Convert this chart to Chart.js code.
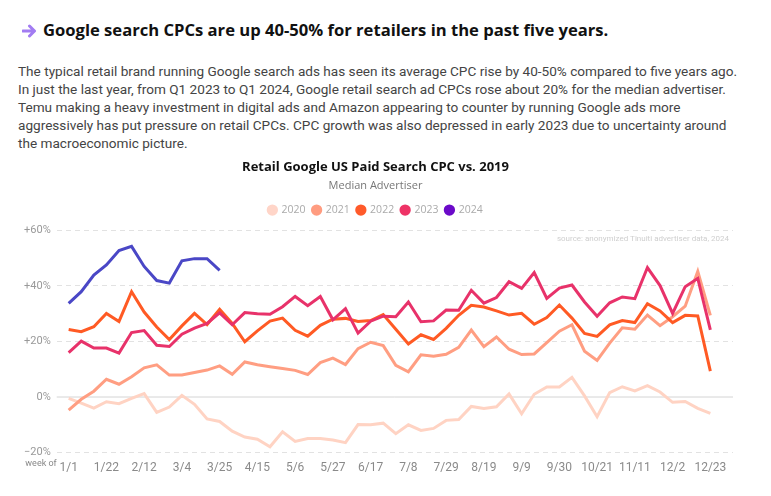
<!DOCTYPE html>
<html><head><meta charset="utf-8">
<script src="https://cdn.jsdelivr.net/npm/chart.js@4.4.1/dist/chart.umd.min.js"></script>
<style>
html,body{margin:0;padding:0;background:#fff;width:771px;height:496px;overflow:hidden;}
#h{position:absolute;left:22px;top:18px;font-family:'Open Sans',sans-serif;font-weight:700;font-size:16.6px;color:#111;white-space:nowrap;line-height:24px;}
#h svg{vertical-align:-2px;margin-right:6px;}
#p{position:absolute;left:18px;top:62px;font-family:Roboto,sans-serif;font-size:13.6px;line-height:18px;color:#444;white-space:nowrap;}
#wrap{position:absolute;left:0;top:150px;width:771px;height:346px;}
</style></head><body>
<div id="h"><svg width="15" height="14" viewBox="0 0 15 14"><path d="M1 7H12M7.5 2L12.5 7L7.5 12" stroke="#a27cf2" stroke-width="3" fill="none" stroke-linecap="round" stroke-linejoin="round"/></svg>Google search CPCs are up 40-50% for retailers in the past five years.</div>
<div id="p">The typical retail brand running Google search ads has seen its average CPC rise by 40-50% compared to five years ago.<br>In just the last year, from Q1 2023 to Q1 2024, Google retail search ad CPCs rose about 20% for the median advertiser.<br>Temu making a heavy investment in digital ads and Amazon appearing to counter by running Google ads more<br>aggressively has put pressure on retail CPCs. CPC growth was also depressed in early 2023 due to uncertainty around<br>the macroeconomic picture.</div>
<div id="wrap"><canvas id="c"></canvas></div>
<script>
const weeks = ['1/1','1/8','1/15','1/22','1/29','2/5','2/12','2/19','2/26','3/4','3/11','3/18','3/25','4/1','4/8','4/15','4/22','4/29','5/6','5/13','5/20','5/27','6/3','6/10','6/17','6/24','7/1','7/8','7/15','7/22','7/29','8/5','8/12','8/19','8/26','9/2','9/9','9/16','9/23','9/30','10/7','10/14','10/21','10/28','11/4','11/11','11/18','11/25','12/2','12/9','12/16','12/23'];
const tickWeeks = ['1/1','1/22','2/12','3/4','3/25','4/15','5/6','5/27','6/17','7/8','7/29','8/19','9/9','9/30','10/21','11/11','12/2','12/23'];
const yTicks = [-20, 0, 20, 40, 60];
const seriesNames = ['2020','2021','2022','2023','2024'];

const y2020 = [-0.5,-2.2,-4.0,-1.7,-2.4,-0.5,1.2,-5.5,-3.6,0.6,-2.6,-7.9,-8.8,-12.3,-14.4,-15.2,-17.9,-12.5,-16.0,-14.9,-14.9,-15.5,-16.4,-9.9,-10.0,-9.4,-13.2,-10.0,-12.0,-11.3,-8.4,-8.1,-3.4,-4.1,-3.5,1.1,-6.0,1.0,3.6,3.6,7.1,0.4,-7.1,1.6,3.7,2.2,4.1,1.8,-1.9,-1.6,-4.1,-5.9];
const y2021 = [-4.7,-0.8,2.1,6.4,4.6,7.3,10.5,11.6,7.9,7.9,8.8,9.7,11.2,8.2,12.6,11.6,10.9,10.3,9.6,8.1,12.4,14.0,11.7,17.4,19.7,18.5,11.4,9.1,15.2,14.7,15.4,17.9,24.1,18.1,21.6,17.2,15.3,15.5,19.6,23.7,26.0,16.5,13.2,19.4,24.9,24.4,29.5,25.7,28.9,32.7,45.2,29.4];
const y2022 = [24.3,23.5,25.3,30.1,27.2,37.9,30.6,25.2,20.7,25.6,30.1,26.1,31.6,26.5,19.9,23.8,27.3,28.4,24.0,21.9,25.8,28.0,28.3,27.2,27.5,29.7,24.4,19.1,22.4,20.7,24.7,29.4,33.0,32.4,31.0,29.5,30.1,26.2,28.6,33.1,28.4,22.9,21.8,26.0,27.5,26.8,33.6,31.0,26.8,29.4,29.2,9.3];
const y2023 = [16.0,20.1,17.6,17.6,15.8,23.2,23.9,18.6,18.2,22.6,24.8,26.5,30.3,26.0,30.4,30.0,29.8,32.5,36.2,32.9,36.2,27.8,31.8,23.0,27.3,29.1,28.9,34.2,27.1,27.4,31.3,31.2,38.4,33.8,35.8,41.5,39.1,44.8,35.5,39.2,40.3,34.2,29.1,33.9,36.0,35.4,46.6,40.1,30.1,39.7,42.7,24.2];
const y2024 = [33.7,37.9,43.9,47.5,52.7,54.2,47.0,41.9,41.0,49.0,49.8,49.8,45.6];

const lineColors = ['#ffd3c3','#ff9e82','#ff5a24','#e8326a','#4a47c6'];
const legendColors = ['#ffd5c8','#ff9c80','#ff5a2a','#ee3366','#6b0ac9'];
const allSeries = [y2020,y2021,y2022,y2023,y2024];

const datasets = allSeries.map((arr, k) => ({
  label: seriesNames[k],
  data: arr.map((v, i) => ({x: i, y: v})),
  borderColor: lineColors[k],
  backgroundColor: lineColors[k],
  borderWidth: 3,
  pointRadius: 0,
  tension: 0,
  order: 5 - k
}));

const extras = {
  id: 'extras',
  beforeInit(chart) {
    const lg = chart.legend;
    if (lg) {
      const fit = lg.fit;
      lg.fit = function() { fit.call(this); this.height += 5; };
    }
  },
  beforeDatasetsDraw(chart) {
    const {ctx, chartArea, scales} = chart;
    const y0 = scales.y.getPixelForValue(0);
    ctx.save();
    ctx.strokeStyle = '#d4d4d4';
    ctx.lineWidth = 1;
    ctx.beginPath();
    ctx.moveTo(chartArea.left, y0);
    ctx.lineTo(chartArea.right, y0);
    ctx.stroke();
    ctx.restore();
  },
  afterDraw(chart) {
    const {ctx, chartArea} = chart;
    ctx.save();
    ctx.fillStyle = '#cfcfcf';
    ctx.font = '8px Roboto';
    ctx.textAlign = 'right';
    ctx.textBaseline = 'middle';
    ctx.fillText('source: anonymized Tinuiti advertiser data, 2024', chartArea.right - 4, chartArea.top + 9);
    ctx.fillStyle = '#888';
    ctx.font = '9px Roboto';
    ctx.fillText('week of', chartArea.left, chartArea.bottom + 11);
    ctx.restore();
  }
};

new Chart(document.getElementById('c'), {
  type: 'line',
  data: {datasets},
  plugins: [extras],
  options: {
    responsive: true,
    maintainAspectRatio: false,
    animation: false,
    layout: {padding: {left: 18, right: 38, top: 0, bottom: 21}},
    plugins: {
      title: {display: true, text: 'Retail Google US Paid Search CPC vs. 2019', color: '#111',
        font: {family: "'Open Sans'", weight: '700', size: 13}, padding: {top: 9, bottom: 5}},
      subtitle: {display: true, text: 'Median Advertiser', color: '#777',
        font: {family: "'Open Sans'", weight: '400', size: 11}, padding: {bottom: 5}},
      legend: {
        labels: {
          usePointStyle: true, pointStyle: 'circle', boxWidth: 8, boxHeight: 8, padding: 7,
          color: '#aaa', font: {family: "'Open Sans'", size: 10.5},
          generateLabels: (chart) => chart.data.datasets.map((d, k) => ({
            text: d.label, fillStyle: legendColors[k], strokeStyle: legendColors[k], lineWidth: 0,
            pointStyle: 'circle', hidden: false, datasetIndex: k, fontColor: '#aaa'
          }))
        }
      },
      tooltip: {enabled: false}
    },
    scales: {
      x: {
        type: 'linear', min: -0.95, max: 52.8,
        grid: {display: false}, border: {display: false},
        afterBuildTicks: (s) => { s.ticks = tickWeeks.map(w => ({value: weeks.indexOf(w)})); },
        ticks: {color: '#8a8a8a', font: {family: 'Roboto', size: 12}, padding: 0, maxRotation: 0, autoSkip: false,
          callback: (v) => weeks[v]}
      },
      y: {
        min: -20, max: 60,
        afterBuildTicks: (s) => { s.ticks = yTicks.map(v => ({value: v})); },
        grid: {color: (c) => c.tick && c.tick.value === 0 ? 'rgba(0,0,0,0)' : '#e2e2e2', lineWidth: 1, drawTicks: false},
        border: {display: false, dash: [5, 4]},
        ticks: {color: '#999', font: {family: 'Roboto', size: 11}, padding: 6,
          callback: (v) => v > 0 ? '+' + v + '%' : (v < 0 ? '\u2212' + Math.abs(v) + '%' : '0%')}
      }
    }
  }
});
</script>
</body></html>
